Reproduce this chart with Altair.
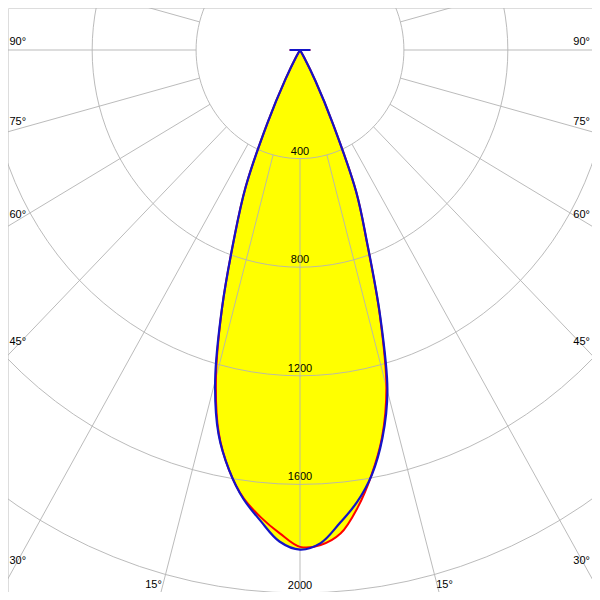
import math
import altair as alt
import pandas as pd

# ---- data (candela values) ----
ANGLES = [0, 2.5, 5, 7.5, 10, 12.5, 15, 17.5, 20, 22.5, 25, 27.5, 30,
          35, 40, 45, 50, 55, 60, 65, 70, 75, 80, 85, 90]
BLUE_C90 = [1840, 1818, 1750, 1680, 1590, 1465, 1300, 1025, 755, 565, 300, 130, 30,
            0, 0, 0, 0, 0, 0, 0, 0, 0, 0, 0, 40]
BLUE_C270 = [1840, 1812, 1741, 1668, 1571, 1449, 1262, 1000, 745, 548, 295, 120, 30,
             0, 0, 0, 0, 0, 0, 0, 0, 0, 0, 0, 40]
RED_C0 = [1830, 1825, 1788, 1700, 1588, 1460, 1285, 1020, 752, 565, 300, 130, 30,
          0, 0, 0, 0, 0, 0, 0, 0, 0, 0, 0, 40]
RED_C180 = [1830, 1782, 1728, 1665, 1571, 1445, 1250, 998, 745, 548, 295, 120, 30,
            0, 0, 0, 0, 0, 0, 0, 0, 0, 0, 0, 40]
RING_VALUES = [400, 800, 1200, 1600, 2000]
SPOKE_STEP = 15
ANGLE_LABELS = [15, 30, 45, 60, 75, 90]

# ---- layout constants (page pixels) ----
W = H = 584
CX, CY = 300.0, 50.0      # pole position on the page
KY = 0.2715               # px per cd vertically
KX = 0.2598               # px per cd horizontally
X_DOM = [(8 - CX) / KX, (8 + W - CX) / KX]
Y_DOM = [-(8 + H - CY) / KY, -(8 - CY) / KY]
xs = alt.Scale(domain=X_DOM, nice=False, zero=False)
ys = alt.Scale(domain=Y_DOM, nice=False, zero=False)
FONT = "Liberation Sans"
INTERP = "catmull-rom"


def px_x(page_x):
    return (page_x - CX) / KX


def px_y(page_y):
    return -(page_y - CY) / KY


# ---- curves table ----
rows = []
for name, left, right in [("red", RED_C180, RED_C0), ("blue", BLUE_C270, BLUE_C90)]:
    seq = 0
    for a, v in zip(reversed(ANGLES), reversed(left)):
        rows.append({"curve": name, "seq": seq, "a": -a, "v": v})
        seq += 1
    for a, v in zip(ANGLES[1:], right[1:]):
        rows.append({"curve": name, "seq": seq, "a": a, "v": v})
        seq += 1
curves = pd.DataFrame(rows)


def polar(chart):
    return chart.transform_calculate(
        x="datum.v * sin(datum.a * PI / 180)",
        y="-datum.v * cos(datum.a * PI / 180)",
    )


X = alt.X("x:Q", scale=xs, axis=None)
Y = alt.Y("y:Q", scale=ys, axis=None)

fill = polar(alt.Chart(curves)).mark_line(
    fill="#ffff00", strokeOpacity=0, interpolate=INTERP
).encode(x=X, y=Y, order="seq:Q", detail="curve:N")

red_line = polar(alt.Chart(curves)).transform_filter("datum.curve == 'red'").mark_line(
    color="#ff0000", strokeWidth=2, interpolate=INTERP
).encode(x=X, y=Y, order="seq:Q")

blue_line = polar(alt.Chart(curves)).transform_filter("datum.curve == 'blue'").mark_line(
    color="#1414c8", strokeWidth=2.2, interpolate=INTERP
).encode(x=X, y=Y, order="seq:Q")

# ---- grid ----
ring_rows = []
for rv in RING_VALUES:
    for k in range(0, 121):
        ring_rows.append({"ring": rv, "k": k, "a": k * 3, "v": rv})
rings = pd.DataFrame(ring_rows)
ring_layer = polar(alt.Chart(rings)).mark_line(
    color="#b4b4b4", strokeWidth=1, clip=True, opacity=0.9
).encode(x=X, y=Y, order="k:Q", detail="ring:N")

spokes = pd.DataFrame({"a": list(range(0, 360, SPOKE_STEP))})
spokes["r0"] = RING_VALUES[0]
spokes["r1"] = 3000
spoke_layer = alt.Chart(spokes).transform_calculate(
    x="datum.r0 * sin(datum.a * PI / 180)",
    y="-datum.r0 * cos(datum.a * PI / 180)",
    x2="datum.r1 * sin(datum.a * PI / 180)",
    y2="-datum.r1 * cos(datum.a * PI / 180)",
).mark_rule(color="#b4b4b4", strokeWidth=1, clip=True, opacity=0.9).encode(
    x=X, y=Y, x2="x2:Q", y2="y2:Q"
)

# ---- value labels ----
vals = pd.DataFrame({"v": RING_VALUES})
vals["label"] = vals["v"].astype(str)
val_text = alt.Chart(vals).transform_calculate(x="0", y="-datum.v").mark_text(
    align="center", baseline="middle", dy=-7, fontSize=11, font=FONT, color="black"
).encode(x=X, y=Y, text="label:N")

# ---- angle labels ----
la, ra = [], []
for t in ANGLE_LABELS:
    lab = f"{t}°"
    if t >= 30:
        s, c = math.sin(math.radians(t)), math.cos(math.radians(t))
        xd = abs(px_x(18.3))
        ysp = -xd * c / s
        off = 4 - 12 * s * s
        yl = ysp - off / KY
        la.append({"x": px_x(9.5), "y": yl, "label": lab})
        ra.append({"x": px_x(590), "y": yl, "label": lab})
    else:
        yl = px_y(585)
        xs_ = abs(yl) * math.tan(math.radians(t))
        ra.append({"x": -xs_ - 1 / KX, "y": yl, "label": lab})
        la.append({"x": xs_ - 1 / KX, "y": yl, "label": lab})
left_lab = alt.Chart(pd.DataFrame(la)).mark_text(
    align="left", baseline="middle", fontSize=11, font=FONT, color="black"
).encode(x=X, y=Y, text="label:N")
right_lab = alt.Chart(pd.DataFrame(ra)).mark_text(
    align="right", baseline="middle", fontSize=11, font=FONT, color="black"
).encode(x=X, y=Y, text="label:N")

chart = alt.layer(
    fill, val_text, ring_layer, spoke_layer, red_line, blue_line, left_lab, right_lab
).properties(
    width=W, height=H, padding=0, autosize=alt.AutoSizeParams(type="none")
).configure_view(strokeWidth=0).configure(background="white")

chart.save("out.html", embed_options={"renderer": "svg", "actions": False})
